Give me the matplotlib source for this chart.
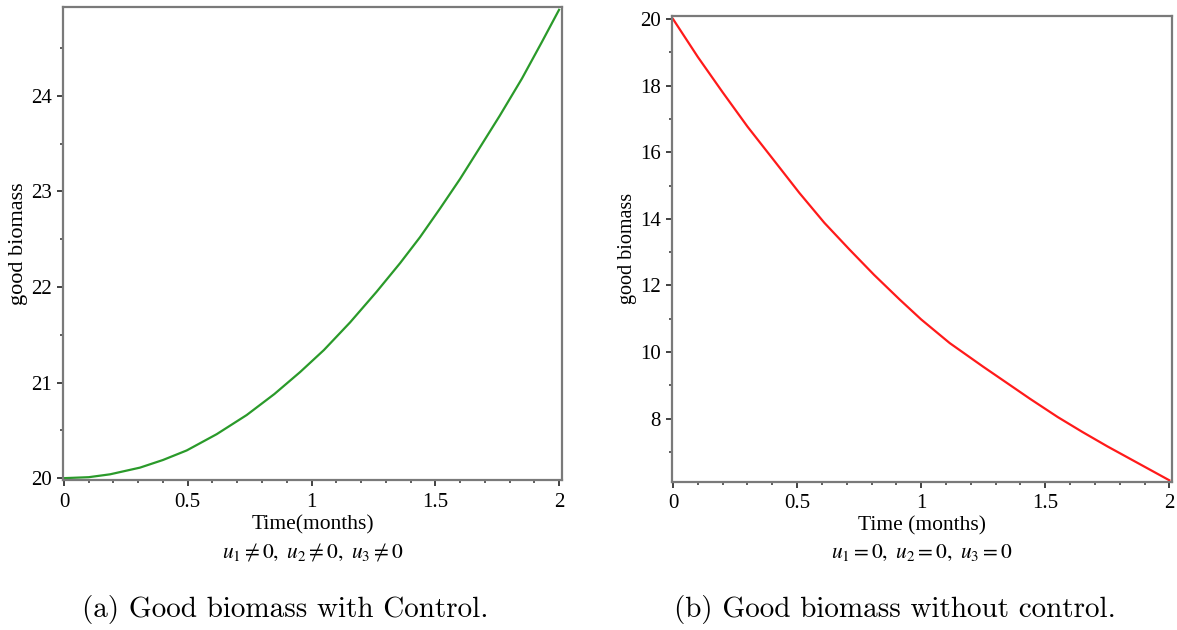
"""Good biomass with and without control: two side-by-side panels."""

import matplotlib
matplotlib.use("Agg")
import matplotlib.pyplot as plt
from matplotlib.ticker import MultipleLocator

# panel (a): controlled run
t_ctrl = [0.0, 0.1, 0.186, 0.307, 0.4, 0.496, 0.617, 0.738, 0.85, 0.954,
          1.05, 1.156, 1.263, 1.358, 1.438, 1.519, 1.6, 1.673, 1.76, 1.85,
          1.93, 2.0]
g_ctrl = [20.0, 20.01, 20.04, 20.11, 20.19, 20.29, 20.46, 20.66, 20.88, 21.11,
          21.34, 21.63, 21.95, 22.25, 22.52, 22.82, 23.13, 23.43, 23.79, 24.18,
          24.56, 24.90]

# panel (b): no control
t_free = [0.0, 0.1, 0.2, 0.3, 0.4, 0.509, 0.61, 0.711, 0.81, 0.913, 1.0,
          1.115, 1.25, 1.35, 1.438, 1.55, 1.65, 1.75, 1.875, 2.0]
g_free = [20.0, 18.86, 17.80, 16.77, 15.82, 14.78, 13.88, 13.08, 12.32, 11.58,
          10.98, 10.27, 9.56, 9.05, 8.60, 8.05, 7.60, 7.17, 6.66, 6.15]

x_ticks = [0, 0.5, 1, 1.5, 2]
x_tick_labels = ["0", "0.5", "1", "1.5", "2"]

plt.rcParams["mathtext.fontset"] = "stix"
SERIF = ["Liberation Serif", "DejaVu Serif"]
FRAME = "#7a7a7a"

fig = plt.figure(figsize=(11.77, 6.3), dpi=100)
ax_a = fig.add_axes([0.0535, 0.238, 0.424, 0.751])
ax_b = fig.add_axes([0.571, 0.235, 0.425, 0.740])


def style_axes(ax, ylim, y_major, y_minor, xlabel, ulabel, ylabel_size):
    ax.set_xlim(-0.004, 2.012)
    ax.set_ylim(*ylim)
    ax.set_xticks(x_ticks)
    ax.set_xticklabels(x_tick_labels)
    ax.xaxis.set_minor_locator(MultipleLocator(0.1))
    ax.yaxis.set_major_locator(MultipleLocator(y_major))
    ax.yaxis.set_minor_locator(MultipleLocator(y_minor))
    for sp in ax.spines.values():
        sp.set_color(FRAME)
        sp.set_linewidth(1.6)
    ax.tick_params(which="major", direction="out", length=4, width=1.3,
                   color="#333333", labelsize=15, pad=4)
    ax.tick_params(which="minor", direction="out", length=2.5, width=1.1,
                   color="#333333")
    ax.tick_params(axis="x", which="major", pad=5)
    for lab in ax.get_xticklabels() + ax.get_yticklabels():
        lab.set_family(SERIF)
    ax.set_ylabel("good biomass", family=SERIF, fontsize=ylabel_size,
                  labelpad=2)
    ax.text(0.5, -0.095, xlabel, transform=ax.transAxes, ha="center",
            va="center", family=SERIF, fontsize=15.5)
    ax.text(0.5, -0.152, ulabel, transform=ax.transAxes, ha="center",
            va="center", fontsize=15.5)


ax_a.plot(t_ctrl, g_ctrl, color="#2a9a2a", lw=1.6)
style_axes(ax_a, (19.98, 24.93), 1, 0.5, "Time(months)",
           r"$u_1 \neq 0,\ u_2 \neq 0,\ u_3 \neq 0$", 16)

ax_b.plot(t_free, g_free, color="#ff1a1a", lw=1.6)
style_axes(ax_b, (6.1, 20.1), 2, 1, "Time (months)",
           r"$u_1 = 0,\ u_2 = 0,\ u_3 = 0$", 14.5)

fig.text(285 / 1177, 1 - 610 / 630, "(a) Good biomass with Control.",
         ha="center", va="center", family=["cmr10", "DejaVu Serif"], fontsize=21)
fig.text(895 / 1177, 1 - 610 / 630, "(b) Good biomass without control.",
         ha="center", va="center", family=["cmr10", "DejaVu Serif"], fontsize=21)

fig.savefig("out.png", dpi=100)
